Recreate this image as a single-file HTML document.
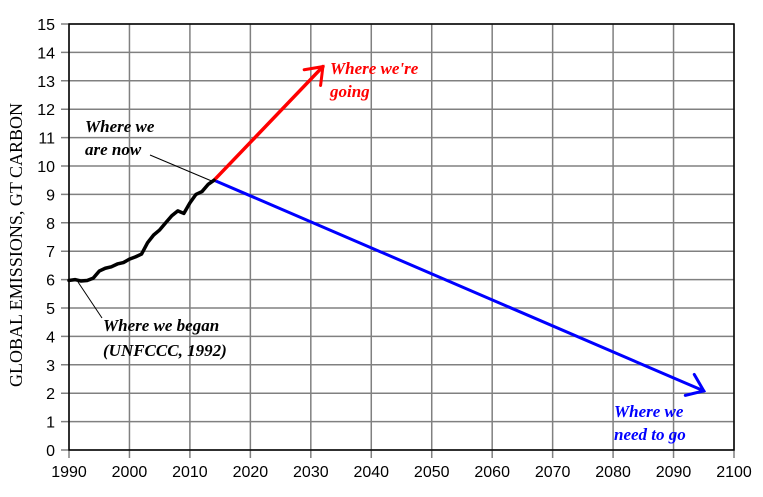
<!DOCTYPE html>
<html><head><meta charset="utf-8"><style>
body{margin:0;background:#fff;}
svg{display:block;}
.tk{font-family:"Liberation Sans",sans-serif;font-size:16px;fill:#000;}
.an{font-family:"Liberation Serif",serif;font-size:17px;font-weight:bold;font-style:italic;}
</style></head><body>
<svg id="c" width="763" height="497" xmlns="http://www.w3.org/2000/svg">
<text transform="translate(22,245) rotate(-90)" text-anchor="middle" font-family="Liberation Serif, serif" font-size="18">GLOBAL EMISSIONS, GT CARBON</text>
<g id="grid"></g><g id="series"></g>
<line x1="150" y1="155" x2="214" y2="182" stroke="#000" stroke-width="1"/>
<line x1="78" y1="282" x2="102" y2="318" stroke="#000" stroke-width="1"/>
<text class="an" fill="#000"><tspan x="85" y="132">Where we</tspan><tspan x="85" y="155">are now</tspan></text>
<text class="an" fill="#000"><tspan x="103" y="331">Where we began</tspan><tspan x="103" y="356">(UNFCCC, 1992)</tspan></text>
<text class="an" fill="#ff0000"><tspan x="330" y="74">Where we're</tspan><tspan x="330" y="97">going</tspan></text>
<text class="an" fill="#0000ff"><tspan x="614" y="417">Where we</tspan><tspan x="614" y="440">need to go</tspan></text>
</svg>
<script>
const histYears=[1990,1991,1992,1993,1994,1995,1996,1997,1998,1999,2000,2001,2002,2003,2004,2005,2006,2007,2008,2009,2010,2011,2012,2013,2014];
const histValues=[5.97,6.0,5.95,5.97,6.05,6.3,6.4,6.45,6.55,6.6,6.72,6.8,6.9,7.3,7.57,7.75,8.0,8.25,8.42,8.33,8.7,9.0,9.1,9.35,9.5];
const goingYears=[2014,2032];
const goingValues=[9.5,13.5];
const needYears=[2014,2095];
const needValues=[9.5,2.08];
const xTicks=[1990,2000,2010,2020,2030,2040,2050,2060,2070,2080,2090,2100];
const yTicks=[0,1,2,3,4,5,6,7,8,9,10,11,12,13,14,15];
const NS="http://www.w3.org/2000/svg";
const X=y=>69+(y-1990)*(734-69)/110;
const Y=v=>450-v*(450-24)/15;
function mk(t,a,p){const e=document.createElementNS(NS,t);for(const k in a)e.setAttribute(k,a[k]);p.appendChild(e);return e;}
const g=document.getElementById('grid');
yTicks.forEach(v=>{
 const l=mk('line',{x1:61,x2:734,y1:Y(v),y2:Y(v),stroke:'#808080','stroke-width':1.5},g);
 
 
 const t=mk('text',{x:55,y:Y(v)+6,'text-anchor':'end',class:'tk'},g);t.textContent=v;
 
 
});
xTicks.forEach(v=>{
 const l=mk('line',{x1:X(v),x2:X(v),y1:24,y2:458,stroke:'#808080','stroke-width':1.5},g);
 
 
 const t=mk('text',{x:X(v),y:477,'text-anchor':'middle',class:'tk'},g);t.textContent=v;
 
 
});
const fr=mk('rect',{x:69,y:24,width:665,height:426,fill:'none',stroke:'#000','stroke-width':1.5},g);


const s=document.getElementById('series');
function line(xs,vs,col,w,name){
 const p=mk('polyline',{points:xs.map((x,i)=>X(x)+','+Y(vs[i])).join(' '),fill:'none',stroke:col,'stroke-width':w,'stroke-linejoin':'round','stroke-linecap':'round'},s);
 
 
}
function arrow(xs,vs,col,name){
 const n=xs.length-1,tx=X(xs[n]),ty=Y(vs[n]),px=X(xs[n-1]),py=Y(vs[n-1]);
 const a=Math.atan2(ty-py,tx-px),L=19;
 const p=mk('polyline',{points:[tx+L*Math.cos(a+2.5),ty+L*Math.sin(a+2.5)].join(',')+' '+tx+','+ty+' '+[tx+L*Math.cos(a-2.5),ty+L*Math.sin(a-2.5)].join(','),fill:'none',stroke:col,'stroke-width':3,'stroke-linecap':'round'},s);
 
 
}
line(needYears,needValues,'#0000ff',3,'need-to-go-line');
arrow(needYears,needValues,'#0000ff','need-to-go-arrowhead');
line(goingYears,goingValues,'#ff0000',3.5,'going-line');
arrow(goingYears,goingValues,'#ff0000','going-arrowhead');
line(histYears,histValues,'#000',3.5,'historical-emissions-line');
</script>
</body></html>
